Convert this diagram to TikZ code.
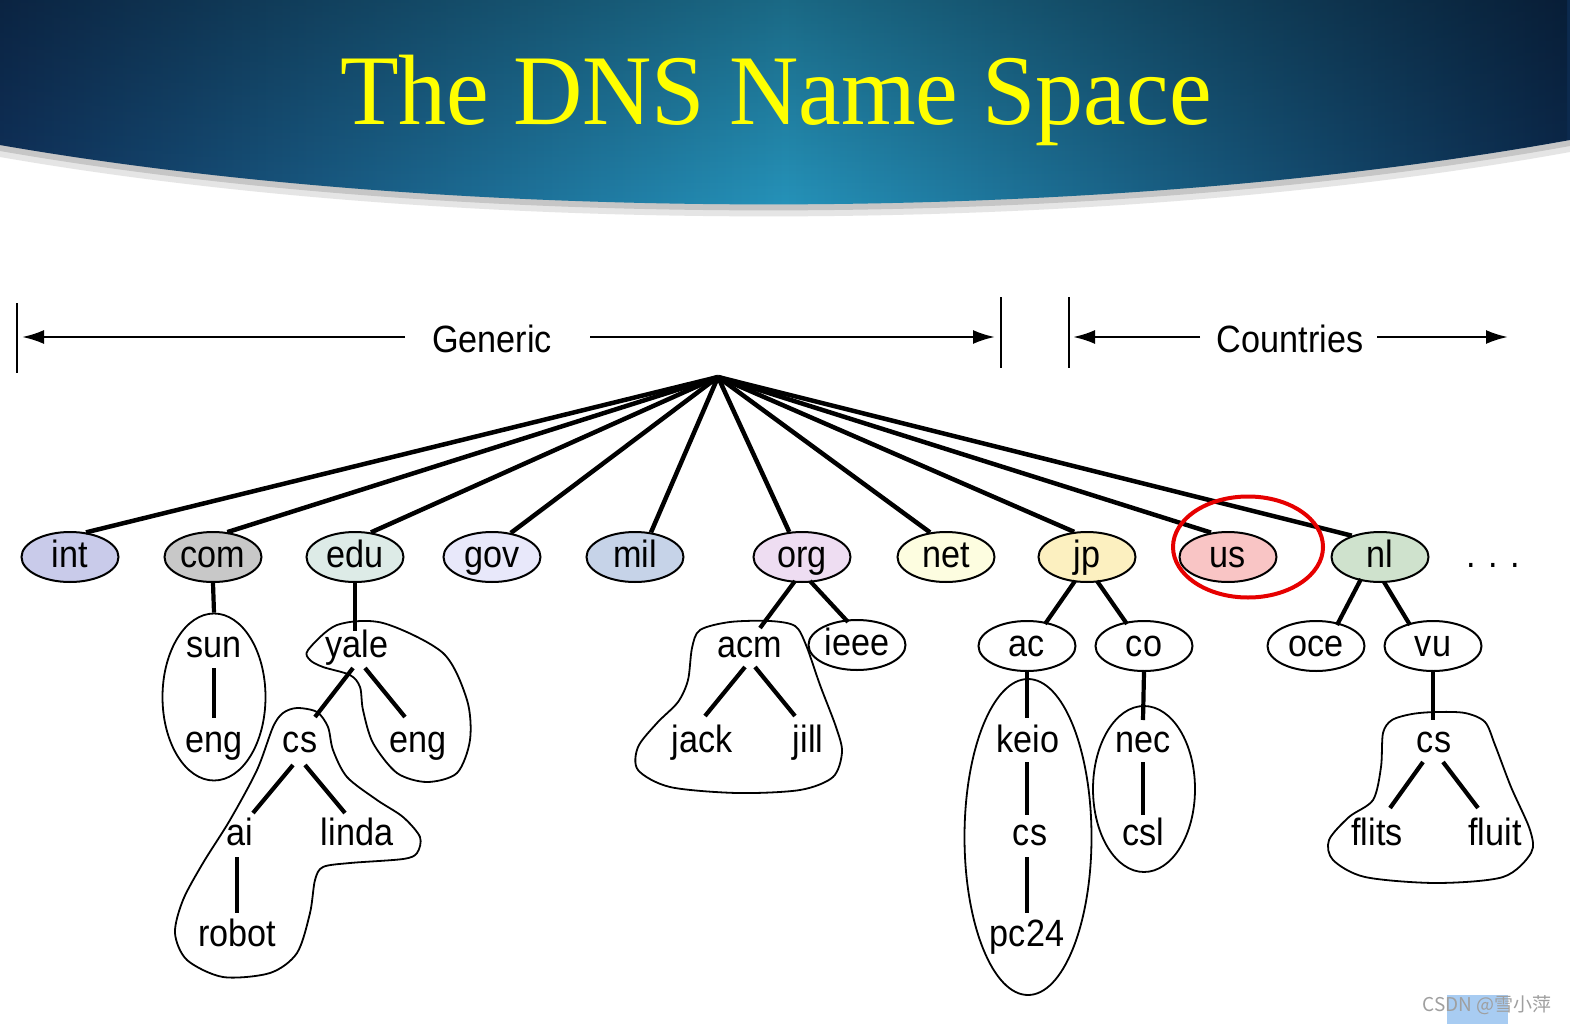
\documentclass[tikz,border=0pt]{standalone}
\usepackage{fontspec}
\usetikzlibrary{shapes.geometric,arrows.meta,calc,fadings}
\newfontfamily\labfont[FakeStretch=0.9]{Liberation Sans}
\newfontfamily\ttlfont[FakeStretch=0.96]{Liberation Serif}
\newfontfamily\cjkfont{Noto Sans CJK SC}
\definecolor{navyL}{HTML}{10335E}
\definecolor{tealM}{HTML}{2696BE}
\definecolor{navyR}{HTML}{0C2A4E}
\definecolor{cInt}{HTML}{C9CBEA}
\definecolor{cCom}{HTML}{C8C8C8}
\definecolor{cEdu}{HTML}{DDEBE7}
\definecolor{cGov}{HTML}{E8E8FA}
\definecolor{cMil}{HTML}{C6D3E8}
\definecolor{cOrg}{HTML}{EEDDF2}
\definecolor{cNet}{HTML}{FDFDE0}
\definecolor{cJp}{HTML}{FCF0C0}
\definecolor{cUs}{HTML}{F9C5C5}
\definecolor{cNl}{HTML}{CFE2CD}
\definecolor{wmblue}{HTML}{A8CCF2}
\tikzfading[name=topdark, top color=transparent!70, bottom color=transparent!100]
\begin{document}
\begin{tikzpicture}[x=1pt,y=-1pt,
  lbl/.style={font=\labfont\fontsize{38}{40}\selectfont, text height=28pt, text depth=7pt, inner sep=0pt},
  tld/.style={lbl, ellipse, draw, line width=2pt, minimum width=97pt, minimum height=50pt},
  subell/.style={tld, fill=white},
  encl/.style={ellipse, draw, line width=1.8pt, inner sep=0pt},
  blob/.style={draw, line width=1.8pt},
  edge/.style={line width=4.5pt},
  sedge/.style={line width=4.2pt},
  arr/.style={line width=2.5pt, -{Latex[length=22pt,width=14pt]}},
  tick/.style={line width=1.6pt}
]
\useasboundingbox (0,0) rectangle (1570,1024);
\fill[white] (0,0) rectangle (1570,1024);

% banner with shadow
\fill[gray!20] (0,0) -- (1570,0) -- (1570,152) .. controls (1100,237) and (460,237) .. (0,157) -- cycle;
\fill[gray!45] (0,0) -- (1570,0) -- (1570,146) .. controls (1100,231) and (460,231) .. (0,151) -- cycle;
\shade[left color=navyL, right color=navyR, middle color=tealM]
  (0,0) -- (1570,0) -- (1570,140) .. controls (1100,225) and (460,225) .. (0,145) -- cycle;
\fill[black, path fading=topdark]
  (0,0) -- (1570,0) -- (1570,140) .. controls (1100,225) and (460,225) .. (0,145) -- cycle;
\node[font=\ttlfont\fontsize{100}{110}\selectfont, text={rgb,255:red,255;green,255;blue,0}, anchor=base, inner sep=0pt] (title) at (776,125) {The DNS Name Space};

% Generic / Countries
\node[lbl] (generic) at (492,342) {Generic};
\node[lbl] (countries) at (1290,342) {Countries};
\coordinate (gA) at (405,337);
\coordinate (gB) at (22,337);
\coordinate (gC) at (590,337);
\coordinate (gD) at (995,337);
\coordinate (cA) at (1200,337);
\coordinate (cB) at (1073,337);
\coordinate (cC) at (1377,337);
\coordinate (cD) at (1508,337);
\draw[arr] (gA) -- (gB);
\draw[arr] (gC) -- (gD);
\draw[arr] (cA) -- (cB);
\draw[arr] (cC) -- (cD);
\coordinate (t1a) at (17,303); \coordinate (t1b) at (17,373);
\coordinate (t2a) at (1001,297); \coordinate (t2b) at (1001,368);
\coordinate (t3a) at (1069,297); \coordinate (t3b) at (1069,368);
\draw[tick] (t1a) -- (t1b);
\draw[tick] (t2a) -- (t2b);
\draw[tick] (t3a) -- (t3b);

% root and top level domains
\coordinate (root) at (718,377);
\node[tld, fill=cInt] (int) at (70,557) {int};
\node[tld, fill=cCom] (com) at (213,557) {com};
\node[tld, fill=cEdu] (edu) at (355,557) {edu};
\node[tld, fill=cGov] (gov) at (492,557) {gov};
\node[tld, fill=cMil] (mil) at (635,557) {mil};
\node[tld, fill=cOrg] (org) at (802,557) {org};
\node[tld, fill=cNet] (net) at (946,557) {net};
\node[tld, fill=cJp] (jp) at (1087,557) {jp};
\node[tld, fill=cUs] (us) at (1228,557) {us};
\node[tld, fill=cNl] (nl) at (1380,557) {nl};
\node[lbl] (dots) at (1493,557) {.\,\,.\,\,.};

\draw[edge, line join=round] (root) -- (int.57);
\draw[edge] (root) -- (com.60);
\draw[edge] (root) -- (edu.57);
\draw[edge] (root) -- (gov.52);
\draw[edge] (root) -- (mil.57);
\draw[edge] (root) -- (org.117);
\draw[edge] (root) -- (net.123);
\draw[edge] (root) -- (jp.117);
\draw[edge] (root) -- (us.125);
\draw[edge] (root) -- (nl.143);

% red circle around us
\node[ellipse, draw={rgb,255:red,230;green,0;blue,0}, line width=4pt, minimum width=150pt, minimum height=101pt, inner sep=0pt] (usring) at (1248,547) {};

% com subtree
\node[encl, minimum width=103pt, minimum height=167pt] (sunbox) at (214,697) {};
\node[lbl] (sun) at (214,647) {sun};
\node[lbl] (eng1) at (214,742) {eng};
\draw[sedge] (com.south) -- (sunbox.north);
\draw[sedge] ($(sun)+(0,21)$) -- ($(eng1)+(0,-24)$);

% edu subtree
\draw[blob] plot[smooth cycle] coordinates {(308,650) (337,625) (383,623) (443,653) (467,700) (470,740) (457,773) (427,782) (397,773) (373,743) (363,710) (360,687) (350,675) (323,667) (310,660)};
\draw[blob] plot[smooth cycle] coordinates {(297,708) (317,712) (328,727) (333,750) (347,777) (377,800) (403,817) (420,837) (417,853) (403,859) (350,863) (323,867) (315,880) (310,913) (297,953) (270,973) (223,977) (187,960) (175,933) (183,900) (203,863) (230,820) (257,770) (273,727) (283,713)};
\node[lbl] (yale) at (357,647) {yale};
\node[lbl] (cs1) at (300,742) {cs};
\node[lbl] (eng2) at (418,742) {eng};
\node[lbl] (ai) at (240,835) {ai};
\node[lbl] (linda) at (357,835) {linda};
\node[lbl] (robot) at (237,936) {robot};
\draw[sedge] (edu.south) -- ($(yale)+(-2,-16)$);
\draw[sedge] ($(yale)+(-4,21)$) -- ($(cs1)+(15,-25)$);
\draw[sedge] ($(yale)+(8,21)$) -- ($(eng2)+(-13,-25)$);
\draw[sedge] ($(cs1)+(-7,23)$) -- ($(ai)+(13,-22)$);
\draw[sedge] ($(cs1)+(5,23)$) -- ($(linda)+(-12,-22)$);
\draw[sedge] ($(ai)+(-3,22)$) -- ($(robot)+(0,-23)$);

% org subtree
\draw[blob] plot[smooth cycle] coordinates {(692,648) (700,630) (730,622) (770,621) (795,626) (806,645) (820,685) (836,727) (842,752) (833,777) (800,790) (737,793) (670,787) (638,770) (638,747) (657,723) (678,702) (688,680)};
\node[lbl] (acm) at (750,647) {acm};
\node[subell] (ieee) at (857,645) {ieee};
\node[lbl] (jack) at (702,742) {jack};
\node[lbl] (jill) at (808,742) {jill};
\draw[sedge] ($(org)+(-7,24)$) -- ($(acm)+(10,-19)$);
\draw[sedge] ($(org)+(8,24)$) -- ($(ieee)+(-9,-23)$);
\draw[sedge] ($(acm)+(-5,20)$) -- ($(jack)+(3,-26)$);
\draw[sedge] ($(acm)+(5,20)$) -- ($(jill)+(-13,-26)$);

% jp subtree
\node[encl, minimum width=127pt, minimum height=316pt] (keiobox) at (1028,837) {};
\node[encl, minimum width=102pt, minimum height=166pt] (necbox) at (1144,789) {};
\node[subell] (ac) at (1027,646) {ac};
\node[subell] (co) at (1144,646) {co};
\node[lbl] (keio) at (1028,742) {keio};
\node[lbl] (cs2) at (1030,835) {cs};
\node[lbl] (pc24) at (1027,936) {pc24};
\node[lbl] (nec) at (1143,742) {nec};
\node[lbl] (csl) at (1143,835) {csl};
\draw[sedge] ($(jp)+(-12,24)$) -- ($(ac)+(18,-22)$);
\draw[sedge] ($(jp)+(10,24)$) -- ($(co)+(-17,-22)$);
\draw[sedge] (ac.south) -- ($(keio)+(-1,-24)$);
\draw[sedge] ($(keio)+(-1,20)$) -- ($(cs2)+(-3,-20)$);
\draw[sedge] ($(cs2)+(-3,22)$) -- ($(pc24)+(0,-23)$);
\draw[sedge] (co.south) -- ($(nec)+(0,-22)$);
\draw[sedge] ($(nec)+(0,20)$) -- ($(csl)+(0,-20)$);

% nl subtree
\draw[blob] plot[smooth cycle] coordinates {(1383,733) (1392,720) (1412,714) (1436,712) (1465,713) (1485,722) (1495,745) (1511,787) (1530,830) (1531,853) (1503,877) (1436,883) (1365,877) (1333,860) (1329,840) (1349,817) (1373,800) (1381,767)};
\node[subell] (oce) at (1316,646) {oce};
\node[subell] (vu) at (1433,646) {vu};
\node[lbl] (cs3) at (1434,742) {cs};
\node[lbl] (flits) at (1377,835) {flits};
\node[lbl] (fluit) at (1495,835) {fluit};
\draw[sedge] ($(nl)+(-19,22)$) -- ($(oce)+(21,-21)$);
\draw[sedge] ($(nl)+(4,25)$) -- ($(vu)+(-23,-21)$);
\draw[sedge] (vu.south) -- ($(cs3)+(-1,-22)$);
\draw[sedge] ($(cs3)+(-11,20)$) -- ($(flits)+(13,-27)$);
\draw[sedge] ($(cs3)+(9,20)$) -- ($(fluit)+(-17,-27)$);

% watermark
\fill[wmblue] (1447,995) rectangle (1508,1024);
\node[font=\cjkfont\fontsize{19}{21}\selectfont, text=gray!75, anchor=base, inner sep=0pt] (wm) at (1487,1011) {CSDN @雪小萍};
\end{tikzpicture}
\end{document}
